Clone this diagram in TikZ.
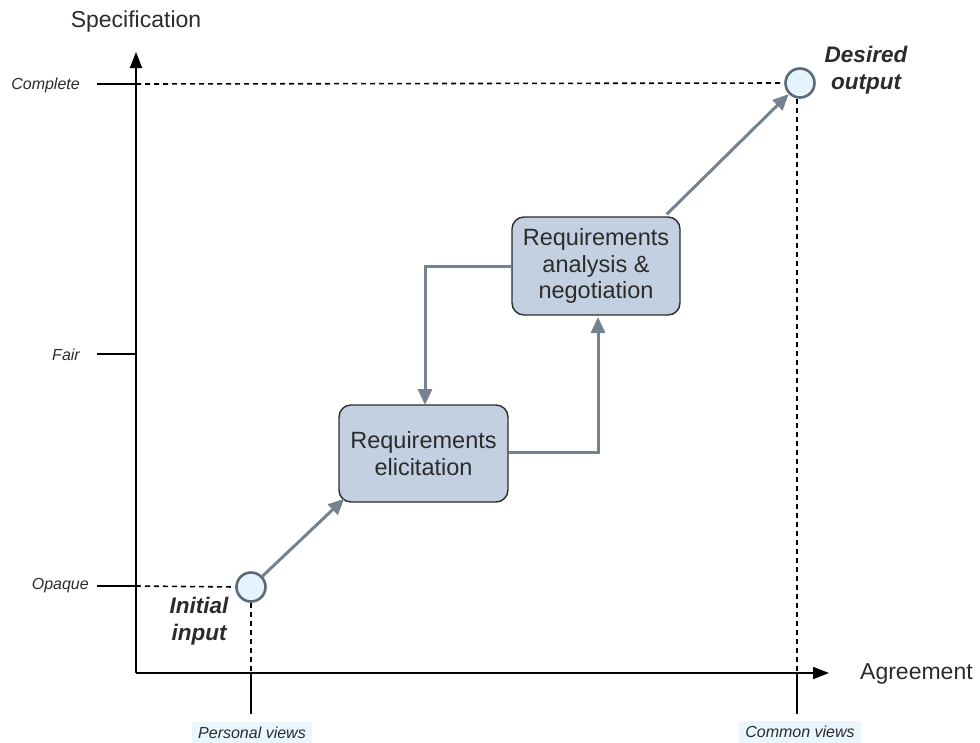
\documentclass[tikz,border=0pt]{standalone}
\usepackage{fontspec}
\setmainfont{Liberation Sans}
\usetikzlibrary{arrows.meta,calc}
\definecolor{flow}{HTML}{75828F}
\definecolor{boxfill}{HTML}{C3D0E2}
\definecolor{ringline}{HTML}{5E6A79}
\definecolor{ringfill}{HTML}{E5F3FD}
\definecolor{tagfill}{HTML}{EAF6FD}
\definecolor{ink}{HTML}{2B2B2B}
\begin{document}
\begin{tikzpicture}[x=1pt,y=-1pt,
  axis/.style={line width=1.8pt,black},
  tickline/.style={line width=1.6pt,black},
  guide/.style={line width=1.6pt,black,dash pattern=on 5pt off 4pt},
  flowline/.style={line width=3pt,flow,-{Triangle[length=16pt,width=14pt]}},
  stage/.style={draw=ink,line width=1.4pt,fill=boxfill,rounded corners=12pt,
    align=center,text=ink,font=\fontsize{23.5}{26.5}\selectfont,inner sep=0pt},
  ring/.style={circle,draw=ringline,fill=ringfill,line width=2.6pt,minimum size=29pt,inner sep=0pt},
  level/.style={font=\fontsize{16}{18}\selectfont\itshape,text=ink,inner sep=0pt},
  tag/.style={font=\fontsize{16}{18}\selectfont\itshape,text=ink,fill=tagfill,inner xsep=6pt,inner ysep=5pt},
  axlabel/.style={font=\fontsize{23}{27}\selectfont,text=ink,inner sep=0pt},
  pointlabel/.style={font=\fontsize{22.5}{27}\selectfont\bfseries\itshape,text=ink,align=center,inner sep=0pt}
]
\useasboundingbox (0,0) rectangle (980,742);

% axes
\coordinate (origin) at (136,673);
\coordinate (ytip) at (136,52);
\coordinate (xtip) at (829,673);
\draw[axis,-{Triangle[length=16pt,width=12pt]}] (origin) -- (ytip);
\draw[axis,-{Triangle[length=16pt,width=12pt]}] (origin) -- (xtip);
\node[axlabel] (spec) at (136,22) {Specification};
\node[axlabel,anchor=west] (agree) at (860,674) {Agreement};

% start and end points
\node[ring] (init) at (251,587) {};
\node[ring] (goal) at (800,83) {};
\node[pointlabel] (initlbl) at (199,621) {Initial\\input};
\node[pointlabel] (goallbl) at (866,70) {Desired\\output};

% specification levels
\coordinate (cA) at (97,84);
\coordinate (cB) at (136,84);
\coordinate (fA) at (97,354);
\coordinate (fB) at (136,354);
\coordinate (oA) at (97,586);
\coordinate (oB) at (136,586);
\node[level,anchor=east] (complete) at (80,85) {Complete};
\node[level,anchor=east] (fair) at (80,355) {Fair};
\node[level,anchor=east] (opaque) at (89,586) {Opaque};
\draw[tickline] (cA) -- (cB);
\draw[tickline] (fA) -- (fB);
\draw[tickline] (oA) -- (oB);
\draw[guide] (cB) -- (goal.west);
\draw[guide] (oB) -- (init.west);

% agreement levels
\coordinate (pA) at (251,673);
\coordinate (pB) at (251,714);
\coordinate (qA) at (797,673);
\coordinate (qB) at (797,714);
\draw[guide] (init.south) -- (pA);
\draw[guide] (goal.south -| qA) -- (qA);
\draw[tickline] (pA) -- (pB);
\draw[tickline] (qA) -- (qB);
\node[tag] (personal) at (252,733) {Personal views};
\node[tag] (common) at (800,732) {Common views};

% process stages
\node[stage,minimum width=169pt,minimum height=97pt] (elic) at (423.5,453.5) {Requirements\\elicitation};
\node[stage,minimum width=168pt,minimum height=98pt] (anal) at (596,266) {Requirements\\analysis \&\\negotiation};

% flow
\draw[flowline] (init) -- ($(elic.south west)+(6,-4)$);
\draw[flowline] ([yshift=1pt]elic.east) -| (598,317);
\draw[flowline] (anal.west) -| (425,405);
\draw[flowline] ($(anal.north east)+(-14,-2)$) -- (goal);
\end{tikzpicture}
\end{document}
